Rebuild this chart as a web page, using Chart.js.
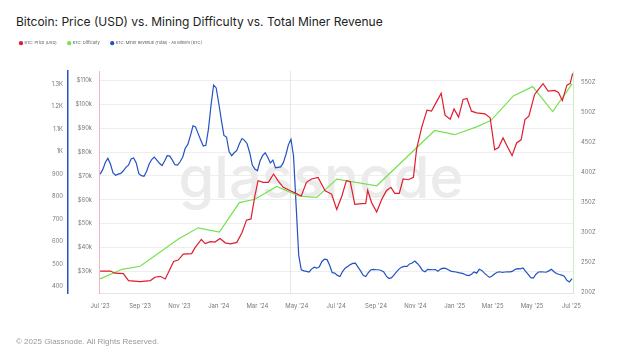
<!DOCTYPE html>
<html>
<head>
<meta charset="utf-8">
<title>Bitcoin: Price vs. Mining Difficulty vs. Total Miner Revenue</title>
<script src="https://cdn.jsdelivr.net/npm/chart.js@4.4.1/dist/chart.umd.min.js"></script>
<style>
  html, body { margin: 0; padding: 0; background: #fff; }
  #wrap { position: relative; width: 642px; height: 361px; overflow: hidden; }
  #title {
    position: absolute; left: 16px; top: 14px; line-height: 16px;
    font: 400 12px Inter, sans-serif; color: #222; white-space: nowrap;
  }
  #footer {
    position: absolute; left: 16px; top: 337px; line-height: 10px;
    font: 8px "Liberation Sans", Arial, sans-serif; color: #999; white-space: nowrap;
  }
  #btcChart { position: absolute; left: 0; top: 0; }
</style>
</head>
<body>
<div id="wrap">
  <div id="title">Bitcoin: Price (USD) vs. Mining Difficulty vs. Total Miner Revenue</div>
  <canvas id="btcChart" width="642" height="361"></canvas>
  <div id="footer">© 2025 Glassnode. All Rights Reserved.</div>
</div>
<script>
// 가격 (USD, 천 달러 단위)
const priceDates = [
  '2023-07-01', '2023-07-17', '2023-07-24', '2023-08-06', '2023-08-14', '2023-09-01', '2023-09-09', '2023-09-17',
  '2023-09-24', '2023-10-02', '2023-10-10', '2023-10-23', '2023-10-30', '2023-11-07', '2023-11-20', '2023-11-25',
  '2023-12-05', '2023-12-11', '2023-12-19', '2023-12-26',
  '2024-01-03', '2024-01-11', '2024-01-19', '2024-01-29', '2024-02-06', '2024-02-13', '2024-02-20', '2024-02-26',
  '2024-03-02', '2024-03-10', '2024-03-18', '2024-03-26', '2024-04-02', '2024-04-10', '2024-04-21', '2024-04-28',
  '2024-05-08', '2024-05-16', '2024-05-24', '2024-06-03', '2024-06-14', '2024-06-24', '2024-07-02', '2024-07-10',
  '2024-07-17', '2024-07-23', '2024-07-30', '2024-08-10', '2024-08-16', '2024-08-19', '2024-08-25', '2024-09-02',
  '2024-09-10', '2024-09-17', '2024-09-24', '2024-09-30', '2024-10-07', '2024-10-13', '2024-10-21', '2024-10-29',
  '2024-11-03', '2024-11-11', '2024-11-19', '2024-11-26', '2024-12-04', '2024-12-11', '2024-12-17', '2024-12-25',
  '2024-12-31',
  '2025-01-07', '2025-01-14', '2025-01-20', '2025-01-27', '2025-02-04', '2025-02-17', '2025-02-25', '2025-03-04',
  '2025-03-10', '2025-03-17', '2025-03-25', '2025-03-31', '2025-04-07', '2025-04-14', '2025-04-20', '2025-04-26',
  '2025-05-05', '2025-05-11', '2025-05-18', '2025-05-26', '2025-06-05', '2025-06-11', '2025-06-17', '2025-06-24',
  '2025-06-29', '2025-07-03'
];
const priceValues = [
  30.2, 30.2, 29.3, 29.1, 26.2, 25.8, 26.0, 26.2, 27.6, 28.0, 26.9, 34.2, 34.8, 37.3, 37.5, 39.9,
  43.4, 41.7, 42.5, 42.3,
  43.8, 42.0, 41.6, 42.2, 46.2, 51.5, 52.0, 61.6, 68.0, 67.3, 67.3, 70.8, 67.9, 65.2, 63.8, 62.9,
  61.6, 67.3, 68.7, 69.4, 63.8, 62.4, 56.0, 61.6, 68.0, 67.6, 58.1, 58.4, 58.5, 64.0, 58.9, 54.9,
  60.3, 63.8, 65.2, 62.7, 62.7, 68.7, 68.4, 69.4, 81.4, 90.5, 97.5, 97.1, 101.1, 104.6, 95.4, 93.7,
  98.0,
  94.6, 102.0, 102.4, 97.1, 96.4, 96.0, 94.3, 80.9, 81.9, 85.9, 81.6, 78.5, 83.8, 85.1, 93.6, 95.0,
  104.1, 106.2, 108.6, 105.5, 105.8, 104.9, 101.5, 108.0, 108.6, 112.9
];

// 채굴 난이도 (Z)
const difficultyDates = [
  '2023-07-01', '2023-08-04', '2023-09-01', '2023-10-31', '2023-11-30', '2024-01-02', '2024-02-02',
  '2024-02-26', '2024-03-31', '2024-05-04', '2024-06-01', '2024-07-02', '2024-09-02', '2024-12-01',
  '2025-01-01', '2025-02-04', '2025-02-26', '2025-04-02', '2025-05-02', '2025-06-02', '2025-07-02'
];
const difficultyValues = [
  223, 239, 244, 290, 308, 301, 350, 355.5, 377, 361, 358.5, 389, 378, 470,
  463, 476, 486.5, 527.5, 543, 501.5, 547.5
];

// 채굴자 수익 (BTC), 2023-07-01부터 4일 간격
const revenueStart = '2023-07-01';
const revenueStepDays = 4;
const revenueValues = [
  900, 920, 952, 970, 945, 905, 895, 900, 903, 915,
  930, 940, 967, 972, 950, 902, 893, 890, 912, 945,
  965, 976, 962, 948, 938, 958, 982, 980, 962, 942,
  940, 955, 975, 1015, 1032, 1070, 1115, 1110, 1080, 1052,
  1025, 1028, 1100, 1206, 1296, 1283, 1215, 1140, 1072, 1065,
  1000, 982, 995, 1005, 1035, 1058, 1050, 1035, 995, 940,
  923, 915, 958, 982, 995, 975, 950, 962, 928, 930,
  932, 950, 985, 1030, 1055, 980, 760, 540, 475, 470,
  468, 465, 478, 486, 482, 488, 512, 522, 520, 495,
  462, 460, 450, 445, 467, 482, 490, 498, 503, 504,
  487, 470, 450, 445, 462, 475, 477, 475, 475, 472,
  465, 447, 436, 440, 452, 467, 479, 487, 490, 490,
  501, 505, 514, 503, 490, 472, 466, 477, 476, 475,
  476, 468, 478, 482, 481, 475, 469, 467, 465, 462,
  460, 457, 451, 449, 455, 465, 460, 477, 472, 460,
  450, 441, 447, 457, 464, 466, 463, 465, 466, 466,
  469, 477, 480, 479, 483, 468, 455, 440, 438, 455,
  465, 466, 465, 464, 470, 477, 466, 458, 454, 451,
  446, 428, 421, 436
];

// 축 눈금
const xTickDates = [
  '2023-07-01', '2023-09-01', '2023-11-01', '2024-01-01', '2024-03-01', '2024-05-01', '2024-07-01',
  '2024-09-01', '2024-11-01', '2025-01-01', '2025-03-01', '2025-05-01', '2025-07-01'
];
const xTickLabels = [
  "Jul '23", "Sep '23", "Nov '23", "Jan '24", "Mar '24", "May '24", "Jul '24",
  "Sep '24", "Nov '24", "Jan '25", "Mar '25", "May '25", "Jul '25"
];
const priceTicks = [30, 40, 50, 60, 70, 80, 90, 100, 110];
const priceTickLabels = ['$30k', '$40k', '$50k', '$60k', '$70k', '$80k', '$90k', '$100k', '$110k'];
const revenueTicks = [400, 500, 600, 700, 800, 900, 1000, 1100, 1200, 1300];
const revenueTickLabels = ['400', '500', '600', '700', '800', '900', '1K', '1.1K', '1.2K', '1.3K'];
const difficultyTicks = [200, 250, 300, 350, 400, 450, 500, 550];
const difficultyTickLabels = ['200Z', '250Z', '300Z', '350Z', '400Z', '450Z', '500Z', '550Z'];

// 반감기 표시선
const eventDates = ['2024-04-20'];

const DAY_MS = 86400000;
const START_MS = Date.parse('2023-07-01');
const dayOf = s => (Date.parse(s) - START_MS) / DAY_MS;

const COLORS = {
  price: '#e21b2e',
  difficulty: '#74e24f',
  revenue: '#2452c2'
};
const FONT = "Inter, 'Noto Sans', sans-serif";
const TICK_COLOR = '#777';

const pricePoints = priceDates.map((d, i) => ({ x: dayOf(d), y: priceValues[i] }));
const difficultyPoints = difficultyDates.map((d, i) => ({ x: dayOf(d), y: difficultyValues[i] }));
const revStartDay = dayOf(revenueStart);
const revenuePoints = revenueValues.map((v, i) => ({ x: revStartDay + i * revenueStepDays, y: v }));

// 워터마크 + 이벤트 세로선
const watermark = {
  id: 'watermark',
  beforeDatasetsDraw(chart) {
    const ctx = chart.ctx;
    ctx.save();
    ctx.font = `500 60px ${FONT}`;
    const w = ctx.measureText('glassnode').width;
    const size = 60 * 285 / w;
    ctx.font = `500 ${size}px ${FONT}`;
    ctx.fillStyle = '#ebebeb';
    ctx.textAlign = 'center';
    ctx.textBaseline = 'alphabetic';
    ctx.fillText('glassnode', chart.width / 2, 198);

    const xs = chart.scales.x;
    const area = chart.chartArea;
    ctx.strokeStyle = '#e6e6e6';
    ctx.lineWidth = 1;
    eventDates.forEach(d => {
      const px = Math.round(xs.getPixelForValue(dayOf(d))) + 0.5;
      ctx.beginPath();
      ctx.moveTo(px, area.top);
      ctx.lineTo(px, area.bottom);
      ctx.stroke();
    });
    ctx.restore();
  }
};

// 범례 아래 여백
const legendSpacing = {
  id: 'legendSpacing',
  beforeInit(chart) {
    const fit = chart.legend.fit;
    chart.legend.fit = function () {
      fit.call(this);
      this.height += 15.8;
    };
  }
};

function tickFont(size) {
  return { size: size, family: FONT };
}

const ctx = document.getElementById('btcChart');
const chart = new Chart(ctx, {
  type: 'line',
  data: {
    datasets: [
      {
        label: 'BTC: Price (USD)',
        data: pricePoints,
        yAxisID: 'yPrice',
        borderColor: COLORS.price,
        backgroundColor: COLORS.price,
        borderWidth: 1.2,
        pointRadius: 0,
        tension: 0
      },
      {
        label: 'BTC: Difficulty',
        data: difficultyPoints,
        yAxisID: 'yDiff',
        borderColor: COLORS.difficulty,
        backgroundColor: COLORS.difficulty,
        borderWidth: 1.2,
        pointRadius: 0,
        tension: 0
      },
      {
        label: 'BTC: Miner Revenue (Total) - All Miners [BTC]',
        data: revenuePoints,
        yAxisID: 'yRev',
        borderColor: COLORS.revenue,
        backgroundColor: COLORS.revenue,
        borderWidth: 1.2,
        pointRadius: 0,
        tension: 0
      }
    ]
  },
  options: {
    responsive: false,
    animation: false,
    devicePixelRatio: 1,
    layout: { padding: { left: 8.5, right: 29, top: 30.2, bottom: 37.5 } },
    plugins: {
      title: { display: false },
      tooltip: { enabled: false },
      legend: {
        position: 'top',
        align: 'start',
        labels: {
          usePointStyle: true,
          pointStyle: 'circle',
          boxWidth: 3,
          boxHeight: 2.2,
          padding: 11,
          color: '#555',
          font: tickFont(4)
        }
      }
    },
    scales: {
      x: {
        type: 'linear',
        min: -1,
        max: 733.5,
        afterFit: s => { s.height = 30; },
        afterBuildTicks: s => { s.ticks = xTickDates.map(d => ({ value: dayOf(d) })); },
        ticks: {
          autoSkip: false,
          maxRotation: 0,
          padding: 1,
          color: TICK_COLOR,
          font: tickFont(6),
          callback: (v, i) => xTickLabels[i]
        },
        grid: { display: false },
        border: { display: true, color: '#e4e4e4', width: 1 }
      },
      yPrice: {
        position: 'left',
        weight: 0,
        min: 20.8,
        max: 113.9,
        afterFit: s => { s.width = 31.5; },
        afterBuildTicks: s => { s.ticks = priceTicks.map(v => ({ value: v })); },
        ticks: {
          padding: 7.5,
          color: TICK_COLOR,
          font: tickFont(5.8),
          callback: (v, i) => priceTickLabels[i]
        },
        grid: { color: '#eeeeee', drawTicks: false },
        border: { display: true, color: '#f4b3bd', width: 1 }
      },
      yRev: {
        position: 'left',
        weight: 1,
        min: 369.5,
        max: 1358.3,
        afterFit: s => { s.width = 59.5; },
        afterBuildTicks: s => { s.ticks = revenueTicks.map(v => ({ value: v })); },
        ticks: {
          padding: 5,
          color: TICK_COLOR,
          font: tickFont(5.8),
          callback: (v, i) => revenueTickLabels[i]
        },
        grid: { drawOnChartArea: false, drawTicks: false },
        border: { display: true, color: COLORS.revenue, width: 1.5 }
      },
      yDiff: {
        position: 'right',
        min: 198.7,
        max: 569,
        afterFit: s => { s.width = 40; },
        afterBuildTicks: s => { s.ticks = difficultyTicks.map(v => ({ value: v })); },
        ticks: {
          padding: 8,
          color: TICK_COLOR,
          font: tickFont(5.8),
          callback: (v, i) => difficultyTickLabels[i]
        },
        grid: { drawOnChartArea: false, drawTicks: false },
        border: { display: true, color: '#c8f1bd', width: 1 }
      }
    }
  },
  plugins: [watermark, legendSpacing]
});
</script>
</body>
</html>
